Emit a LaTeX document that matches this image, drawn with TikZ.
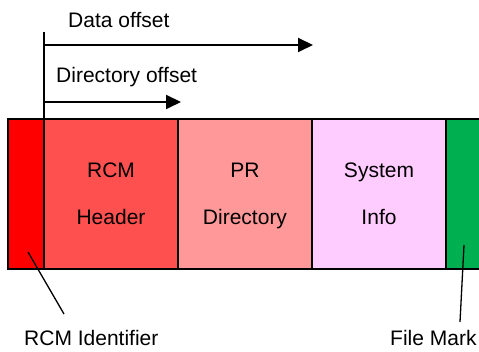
\documentclass[tikz,border=0pt]{standalone}
\usepackage{fontspec}
\setmainfont{Liberation Sans}
\usetikzlibrary{positioning}
\usetikzlibrary{arrows.meta}
\definecolor{idred}{HTML}{FF0000}
\definecolor{hdrred}{HTML}{FF5050}
\definecolor{dirpink}{HTML}{FF9999}
\definecolor{syspink}{HTML}{FFCCFF}
\definecolor{markgreen}{HTML}{00B050}

\begin{document}
\begin{tikzpicture}
    [x=1pt, y=-1pt,
    seg/.style={draw, line width=1.5pt, minimum height=150pt, inner sep=0pt,
        align=center, text depth=0pt, font=\fontsize{21}{47}\selectfont},
    lbl/.style={anchor=base west, inner sep=0pt, font=\fontsize{21}{25}\selectfont},
    offset/.style={-{Triangle[length=15pt,width=14pt]}, line width=2pt},
    leader/.style={line width=1.3pt}]
    \useasboundingbox (0,0) rectangle (479,352);
    %\draw[step=10pt,gray,very thin] (0,0) grid (479,352);
    \node[seg, fill=idred,     minimum width=36pt]  (ident) at (26,194)  {};
    \node[seg, fill=hdrred,    minimum width=134pt] (hdr)   at (111,194) {RCM\\Header};
    \node[seg, fill=dirpink,   minimum width=134pt] (dir)   at (245,194) {PR\\Directory};
    \node[seg, fill=syspink,   minimum width=134pt] (sys)   at (379,194) {System\\Info};
    \node[seg, fill=markgreen, minimum width=60pt]  (mark)  at (476,194) {};
    \coordinate (orig) at (44,32);
    \coordinate (origend) at (44,172);
    \coordinate (dataend) at (313,45);
    \coordinate (dirend) at (181,102);
    \node[lbl] (datalbl) at (68,28)  {Data offset};
    \node[lbl] (dirlbl)  at (56,83)  {Directory offset};
    \node[lbl] (idlbl)   at (24,345) {RCM Identifier};
    \node[lbl] (marklbl) at (390,345) {File Mark};
    \coordinate (idpt) at (28,252);
    \coordinate (idfoot) at (64,314);
    \coordinate (markpt) at (464,245);
    \coordinate (markfoot) at (460,322);
    \draw[line width=2pt] (orig) -- (origend);
    \draw[offset] (orig |- dataend) -- (dataend);
    \draw[offset] (orig |- dirend) -- (dirend);
    \draw[leader] (idpt) -- (idfoot);
    \draw[leader] (markpt) -- (markfoot);
\end{tikzpicture}
\end{document}
